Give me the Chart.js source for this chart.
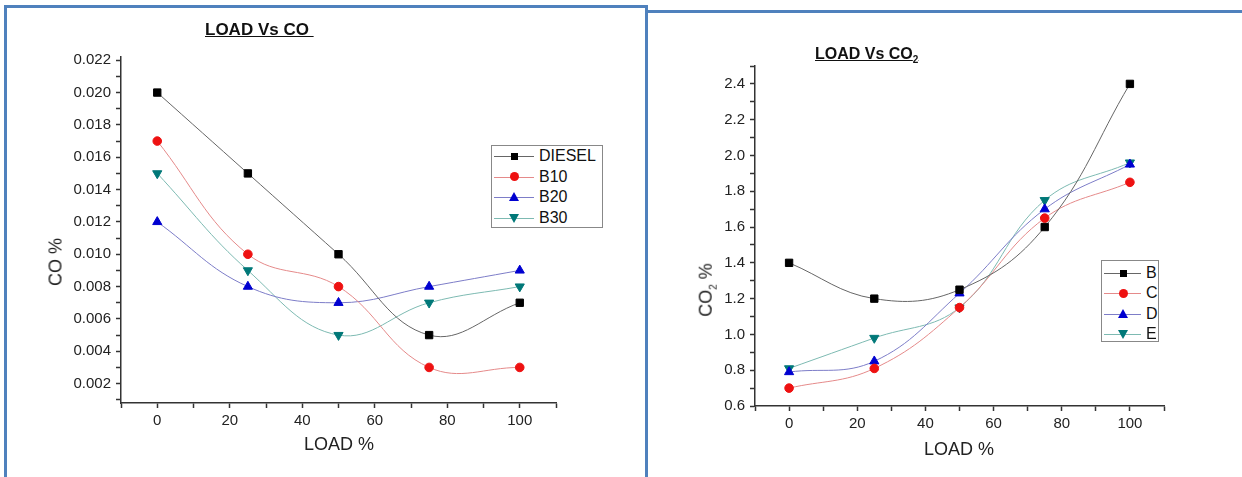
<!DOCTYPE html>
<html lang="en">
<head>
<meta charset="UTF-8">
<title>LOAD Vs CO / LOAD Vs CO2</title>
<script src="https://cdn.jsdelivr.net/npm/chart.js@4.4.1/dist/chart.umd.min.js"></script>
<style>
    body {
        margin: 0;
        width: 1242px;
        height: 477px;
        overflow: hidden;
        background: #fff;
        font-family: "Liberation Sans", Arial, sans-serif;
        position: relative;
    }
    .frame {
        position: absolute;
        border: 3px solid #4f81bd;
        border-bottom: none;
        box-sizing: border-box;
    }
    .wrap {
        position: absolute;
        top: 0;
        height: 477px;
    }
    .title {
        position: absolute;
        font-weight: bold;
        text-decoration: underline;
        color: #111;
        white-space: nowrap;
    }
    .axis-title {
        position: absolute;
        font-size: 18px;
        color: #222;
        white-space: nowrap;
    }
    .ylab {
        transform: translate(-50%, -50%) rotate(-90deg);
    }
    .legend {
        position: absolute;
        border: 1px solid #888;
        background: #fff;
        box-sizing: border-box;
    }
    .legend .row {
        position: absolute;
        left: 0;
        height: 20px;
        width: 100%;
    }
    .legend .seg {
        position: absolute;
        top: 10px;
        height: 1px;
    }
    .legend .mk {
        position: absolute;
    }
    .legend .txt {
        position: absolute;
        top: 0;
        line-height: 20px;
        color: #111;
    }
    sub { font-size: 10px; }
</style>
</head>
<body>
    <div class="frame" style="left:4px; top:5px; width:644px; height:472px;"></div>
    <div class="frame" style="left:645px; top:10px; width:600px; height:467px; border-right:none;"></div>

    <div class="wrap" style="left:0; width:640px;"><canvas id="coChart"></canvas></div>
    <div class="wrap" style="left:648px; width:594px;"><canvas id="co2Chart"></canvas></div>

    <div class="title" style="left:205px; top:20px; font-size:17px;">LOAD Vs CO&nbsp;</div>
    <div class="title" style="left:815px; top:45px; font-size:16px;">LOAD Vs CO<sub>2</sub></div>

    <div class="axis-title ylab" style="left:56px; top:262px;">CO %</div>
    <div class="axis-title" style="left:304px; top:434px;">LOAD %</div>
    <div class="axis-title ylab" style="left:707px; top:290px;">CO<sub>2</sub> %</div>
    <div class="axis-title" style="left:924px; top:439px;">LOAD %</div>

    <div class="legend" id="coLegend" style="left:491px; top:145px; width:112px; height:83px;"></div>
    <div class="legend" id="co2Legend" style="left:1101px; top:260px; width:58px; height:82px;"></div>

<script>
    // x values (LOAD %)
    const loads = [0, 25, 50, 75, 100];

    // CO % per fuel
    const coLabels = ['DIESEL', 'B10', 'B20', 'B30'];
    const coDiesel = [0.020, 0.015, 0.010, 0.005, 0.007];
    const coB10 = [0.017, 0.010, 0.008, 0.003, 0.003];
    const coB20 = [0.012, 0.008, 0.007, 0.008, 0.009];
    const coB30 = [0.015, 0.009, 0.005, 0.007, 0.008];

    // CO2 % per fuel
    const co2Labels = ['B', 'C', 'D', 'E'];
    const co2B = [1.40, 1.20, 1.25, 1.60, 2.40];
    const co2C = [0.70, 0.81, 1.15, 1.65, 1.85];
    const co2D = [0.79, 0.85, 1.23, 1.70, 1.95];
    const co2E = [0.81, 0.98, 1.15, 1.75, 1.96];

    // series styles: line colour, marker colour, marker shape
    const styles = [
        { line: '#666666', mark: '#000000', shape: 'rect', r: 5.2, rot: 0 },
        { line: '#e58a8a', mark: '#ee1111', shape: 'circle', r: 4.3, rot: 0 },
        { line: '#7d7dc8', mark: '#0000d0', shape: 'triangle', r: 5.3, rot: 0 },
        { line: '#7dbab2', mark: '#007878', shape: 'triangle', r: 5.3, rot: 180 }
    ];

    function makeDatasets(labels, series) {
        return series.map(function(vals, i) {
            const s = styles[i];
            return {
                label: labels[i],
                data: vals.map(function(v, j) { return { x: loads[j], y: v }; }),
                borderColor: s.line,
                borderWidth: 1,
                tension: 0.4,
                pointStyle: s.shape,
                pointRotation: s.rot,
                pointRadius: s.r,
                pointBackgroundColor: s.mark,
                pointBorderColor: s.mark,
                pointBorderWidth: 1
            };
        });
    }

    function buildChart(id, w, h, area, datasets, y) {
        const canvas = document.getElementById(id);
        canvas.width = w;
        canvas.height = h;
        canvas.style.width = w + 'px';
        canvas.style.height = h + 'px';
        return new Chart(canvas, {
            type: 'line',
            data: { datasets: datasets },
            options: {
                responsive: false,
                animation: false,
                layout: { padding: { left: 0, top: area.top, right: w - area.right, bottom: 0 } },
                plugins: { legend: { display: false }, tooltip: { enabled: false } },
                scales: {
                    x: {
                        type: 'linear',
                        min: -10,
                        max: 110,
                        afterFit: function(s) { s.height = h - area.bottom; },
                        border: { display: true, color: '#333', width: 1.5 },
                        grid: { display: true, drawOnChartArea: false, drawTicks: true, tickLength: 5, tickColor: '#333', tickWidth: 1.5 },
                        ticks: {
                            stepSize: 10,
                            includeBounds: false,
                            autoSkip: false,
                            maxRotation: 0,
                            padding: 4,
                            color: '#222',
                            font: { family: '"Liberation Sans", Arial, sans-serif', size: 15 },
                            callback: function(v) {
                                return (v >= 0 && v <= 100 && v % 20 === 0) ? String(v) : '';
                            }
                        }
                    },
                    y: {
                        min: y.min,
                        max: y.max,
                        afterFit: function(s) { s.width = area.left; },
                        border: { display: true, color: '#333', width: 1.5 },
                        grid: { display: true, drawOnChartArea: false, drawTicks: true, tickLength: 5, tickColor: '#333', tickWidth: 1.5 },
                        ticks: {
                            stepSize: y.step,
                            includeBounds: false,
                            autoSkip: false,
                            padding: 5,
                            color: '#222',
                            font: { family: '"Liberation Sans", Arial, sans-serif', size: 15 },
                            callback: y.label
                        }
                    }
                }
            }
        });
    }

    buildChart('coChart', 640, 477, { left: 121, right: 556, top: 57, bottom: 403 },
        makeDatasets(coLabels, [coDiesel, coB10, coB20, coB30]),
        {
            min: 0.0008, max: 0.0222, step: 0.001,
            label: function(v) {
                const k = Math.round(v * 1000);
                return (k % 2 === 0 && k >= 2 && k <= 22) ? (k / 1000).toFixed(3) : '';
            }
        });

    buildChart('co2Chart', 594, 477, { left: 107, right: 516, top: 66, bottom: 406 },
        makeDatasets(co2Labels, [co2B, co2C, co2D, co2E]),
        {
            min: 0.6, max: 2.5, step: 0.1,
            label: function(v) {
                const k = Math.round(v * 10);
                return (k % 2 === 0 && k >= 6 && k <= 24) ? (k / 10).toFixed(1) : '';
            }
        });

    // HTML legends
    function markerHtml(s) {
        if (s.shape === 'rect') {
            return '<div class="mk" style="width:7px;height:7px;background:' + s.mark + ';margin:-3.5px 0 0 -3.5px"></div>';
        }
        if (s.shape === 'circle') {
            return '<div class="mk" style="width:9px;height:9px;border-radius:50%;background:' + s.mark + ';margin:-4.5px 0 0 -4.5px"></div>';
        }
        if (s.rot === 0) {
            return '<div class="mk" style="width:0;height:0;border-left:5px solid transparent;border-right:5px solid transparent;border-bottom:9px solid ' + s.mark + ';margin:-5px 0 0 -5px"></div>';
        }
        return '<div class="mk" style="width:0;height:0;border-left:5px solid transparent;border-right:5px solid transparent;border-top:9px solid ' + s.mark + ';margin:-4px 0 0 -5px"></div>';
    }

    function buildLegend(id, labels, o) {
        const box = document.getElementById(id);
        let html = '';
        labels.forEach(function(lab, i) {
            const s = styles[i];
            html += '<div class="row" style="top:' + (o.top + i * o.pitch) + 'px">' +
                '<div class="seg" style="left:' + o.segL + 'px;width:' + o.segW + 'px;background:' + s.line + '"></div>' +
                '<div style="position:absolute;left:' + o.mk + 'px;top:10px">' + markerHtml(s) + '</div>' +
                '<div class="txt" style="left:' + o.txt + 'px;font-size:' + o.font + 'px">' + lab + '</div>' +
                '</div>';
        });
        box.innerHTML = html;
    }

    buildLegend('coLegend', coLabels, { top: 0, pitch: 20.7, segL: 2, segW: 40, mk: 22, txt: 47, font: 16 });
    buildLegend('co2Legend', co2Labels, { top: 2, pitch: 20.3, segL: 2, segW: 37, mk: 21, txt: 44, font: 16 });
</script>
</body>
</html>
